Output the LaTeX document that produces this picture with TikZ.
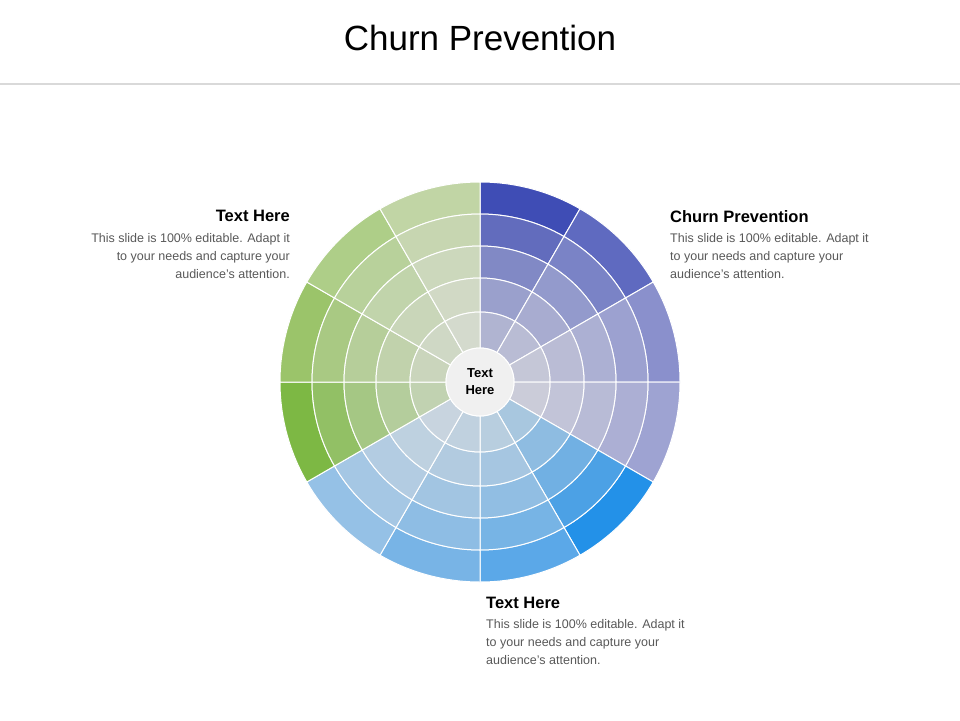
\documentclass[tikz,border=0pt]{standalone}
\usepackage{fontspec}
\setmainfont{Liberation Sans}
\definecolor{s1}{HTML}{3F4DB5}
\definecolor{s2}{HTML}{5F6AC0}
\definecolor{s3}{HTML}{8A90CC}
\definecolor{s4}{HTML}{9EA3D2}
\definecolor{s5}{HTML}{2391E8}
\definecolor{s6}{HTML}{5BA8E8}
\definecolor{s7}{HTML}{78B4E6}
\definecolor{s8}{HTML}{95C1E6}
\definecolor{s9}{HTML}{7DB844}
\definecolor{s10}{HTML}{9BC46A}
\definecolor{s11}{HTML}{AECE88}
\definecolor{s12}{HTML}{C1D5A5}
\definecolor{body}{HTML}{595959}
\definecolor{base}{HTML}{DCDCDC}
\tikzset{
  bodytxt/.style={font=\fontsize{12.5}{18}\selectfont, text=body, inner sep=0pt},
  headtxt/.style={font=\fontsize{16.5}{19}\selectfont\bfseries, text=black, inner sep=0pt},
}
\begin{document}
\begin{tikzpicture}[x=1pt,y=1pt]
\useasboundingbox (0,0) rectangle (960,-720);
\fill[white] (0,0) rectangle (960,-720);
\node[font=\fontsize{35}{40}\selectfont] (title) at (480,-38) {Churn Prevention};
\draw[line width=2pt, gray!30] (0,-84) -- (960,-84);
\coordinate (c) at (480,-382);
\def\radii{{200,168,136,104,70,34}}
\def\mixes{{100,78,58,42,28}}
\foreach \i in {1,...,12}{
  \pgfmathsetmacro{\aone}{90-(\i-1)*30}
  \pgfmathsetmacro{\atwo}{90-\i*30}
  \foreach \k in {0,...,4}{
    \pgfmathsetmacro{\ro}{\radii[\k]}
    \pgfmathsetmacro{\mx}{\mixes[\k]}
    \pgfmathsetmacro{\ri}{\radii[\k+1]}
    \fill[s\i!\mx!base, draw=white, line width=1pt]
      ([shift={(\aone:\ro)}]c) arc[start angle=\aone, end angle=\atwo, radius=\ro]
      -- ([shift={(\atwo:\ri)}]c) arc[start angle=\atwo, end angle=\aone, radius=\ri] -- cycle;
  }
}
\node[circle, fill=gray!12, draw=white, line width=1pt, minimum size=68pt, align=center,
  font=\fontsize{13}{17}\selectfont\bfseries] (ctr) at (c) {Text\\Here};
\node[headtxt, anchor=north east] (lh) at (290,-210) {Text Here};
\node[bodytxt, anchor=north east, align=right] (lb) at (290,-233) {This slide is 100\% editable. Adapt it\\to your needs and capture your\\audience's attention.};
\node[headtxt, anchor=north west] (rh) at (670,-210) {Churn Prevention};
\node[bodytxt, anchor=north west, align=left] (rb) at (670,-233) {This slide is 100\% editable. Adapt it\\to your needs and capture your\\audience's attention.};
\node[headtxt, anchor=north west] (bh) at (486,-597) {Text Here};
\node[bodytxt, anchor=north west, align=left] (bb) at (486,-619) {This slide is 100\% editable. Adapt it\\to your needs and capture your\\audience's attention.};
\end{tikzpicture}
\end{document}
